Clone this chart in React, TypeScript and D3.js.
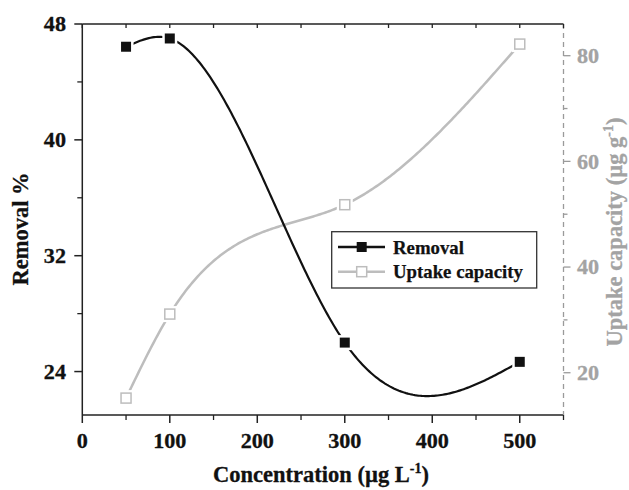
import React from "react";
import * as d3 from "d3";

const concentration = [50, 100, 300, 500];
const removal = [46.43, 47.0, 26.0, 24.67];
const uptake = [15.2, 31.1, 51.8, 82.2];

const xTicksMajor = [0, 100, 200, 300, 400, 500];
const xTicksMinor = [50, 150, 250, 350, 450, 550];
const yLeftMajor = [24, 32, 40, 48];
const yLeftMinor = [28, 36, 44];
const yRightMajor = [20, 40, 60, 80];
const yRightMinor = [30, 50, 70];

const W = 629;
const H = 490;
const FONT = "'Liberation Serif', 'Times New Roman', Times, serif";
const GRAY_LINE = "#bdbdbd";
const GRAY_AXIS = "#9a9a9a";
const GRAY_TEXT = "#a3a3a3";

// natural cubic spline in data-x space
function naturalSpline(xs: number[], ys: number[]) {
  const n = xs.length;
  const h: number[] = [];
  for (let i = 0; i < n - 1; i++) h.push(xs[i + 1] - xs[i]);
  const a: number[] = new Array(n).fill(0);
  const b: number[] = new Array(n).fill(0);
  const c: number[] = new Array(n).fill(0);
  const r: number[] = new Array(n).fill(0);
  b[0] = 1; b[n - 1] = 1;
  for (let i = 1; i < n - 1; i++) {
    a[i] = h[i - 1];
    b[i] = 2 * (h[i - 1] + h[i]);
    c[i] = h[i];
    r[i] = 6 * ((ys[i + 1] - ys[i]) / h[i] - (ys[i] - ys[i - 1]) / h[i - 1]);
  }
  const cp = new Array(n).fill(0);
  const rp = new Array(n).fill(0);
  cp[0] = c[0] / b[0];
  rp[0] = r[0] / b[0];
  for (let i = 1; i < n; i++) {
    const m = b[i] - a[i] * cp[i - 1];
    cp[i] = c[i] / m;
    rp[i] = (r[i] - a[i] * rp[i - 1]) / m;
  }
  const M = new Array(n).fill(0);
  M[n - 1] = rp[n - 1];
  for (let i = n - 2; i >= 0; i--) M[i] = rp[i] - cp[i] * M[i + 1];
  return (x: number) => {
    let i = 0;
    while (i < n - 2 && x > xs[i + 1]) i++;
    const hi = h[i];
    const A = xs[i + 1] - x;
    const B = x - xs[i];
    return (
      (M[i] * A * A * A) / (6 * hi) +
      (M[i + 1] * B * B * B) / (6 * hi) +
      (ys[i] / hi - (M[i] * hi) / 6) * A +
      (ys[i + 1] / hi - (M[i + 1] * hi) / 6) * B
    );
  };
}

export default function App() {
  const left = 82.3, right = 563.5, top = 24, bottom = 415;
  const x = d3.scaleLinear().domain([0, 550]).range([left, right]);
  const yL = d3.scaleLinear().domain([21, 48]).range([bottom, top]);
  const yR = d3.scaleLinear().domain([12, 86]).range([bottom, top]);

  const sampleXs = d3.range(concentration[0], concentration[concentration.length - 1] + 0.001, 2);
  const fRem = naturalSpline(concentration, removal);
  const fUp = naturalSpline(concentration, uptake);
  const line = d3.line<[number, number]>().x((d) => d[0]).y((d) => d[1]);
  const remPath = line(sampleXs.map((v) => [x(v), yL(fRem(v))]) as [number, number][]) || "";
  const upPath = line(sampleXs.map((v) => [x(v), yR(fUp(v))]) as [number, number][]) || "";

  const ms = 10;
  const tickFont = 20.5;
  const sx = 1.08;

  return (
    <svg
      width={W}
      height={H}
      style={{ position: "absolute", left: 0, top: 0, background: "#fff" }}
      fontFamily={FONT}
      fontWeight="bold"
    >
      <rect x={0} y={0} width={W} height={H} fill="#fff" />
      {/* curves */}
      <path d={upPath} fill="none" stroke={GRAY_LINE} strokeWidth={2.5} />
      <path d={remPath} fill="none" stroke="#111" strokeWidth={2.2} />

      {/* markers: uptake */}
      {concentration.map((c, i) => (
        <g key={"u" + i}>
          <rect x={x(c) - ms / 2 - 3} y={yR(uptake[i]) - ms / 2 - 3} width={ms + 6} height={ms + 6} fill="#fff" />
          <rect x={x(c) - ms / 2} y={yR(uptake[i]) - ms / 2} width={ms} height={ms} fill="#fff" stroke={GRAY_LINE} strokeWidth={1.5} />
        </g>
      ))}
      {/* markers: removal */}
      {concentration.map((c, i) => (
        <g key={"r" + i}>
          <rect x={x(c) - ms / 2 - 2.5} y={yL(removal[i]) - ms / 2 - 2.5} width={ms + 5} height={ms + 5} fill="#fff" />
          <rect x={x(c) - ms / 2} y={yL(removal[i]) - ms / 2} width={ms} height={ms} fill="#111" />
        </g>
      ))}

      {/* axes frame */}
      <line x1={left} x2={right} y1={top} y2={top} stroke="#222" strokeWidth={1.5} />
      <line x1={left} x2={right} y1={bottom} y2={bottom} stroke="#222" strokeWidth={1.5} />
      <line x1={left} x2={left} y1={top} y2={bottom} stroke="#222" strokeWidth={1.5} />
      <line x1={right} x2={right} y1={top} y2={bottom} stroke={GRAY_AXIS} strokeWidth={1.3} strokeDasharray="5,4" />

      {/* bottom ticks */}
      {xTicksMajor.map((t) => (
        <g key={"xb" + t}>
          <line x1={x(t)} x2={x(t)} y1={bottom} y2={bottom + 8} stroke="#222" strokeWidth={1.5} />
          <line x1={x(t)} x2={x(t)} y1={top} y2={top + 4} stroke="#222" strokeWidth={1.3} />
          <text transform={`translate(${x(t)},448) scale(${sx},1)`} textAnchor="middle" fontSize={tickFont} fill="#111" stroke="#111" strokeWidth={0.3}>
            {t}
          </text>
        </g>
      ))}
      {xTicksMinor.map((t) => (
        <g key={"xm" + t}>
          <line x1={x(t)} x2={x(t)} y1={bottom} y2={bottom + 5} stroke="#222" strokeWidth={1.3} />
          <line x1={x(t)} x2={x(t)} y1={top} y2={top + 4} stroke="#222" strokeWidth={1.3} />
        </g>
      ))}

      {/* left ticks */}
      {yLeftMajor.map((t) => (
        <g key={"yl" + t}>
          <line x1={left - 8} x2={left} y1={yL(t)} y2={yL(t)} stroke="#222" strokeWidth={1.5} />
          <text transform={`translate(66,${yL(t)}) scale(${sx},1)`} dy="0.35em" textAnchor="end" fontSize={tickFont} fill="#111" stroke="#111" strokeWidth={0.3}>
            {t}
          </text>
        </g>
      ))}
      {yLeftMinor.map((t) => (
        <line key={"ylm" + t} x1={left - 5} x2={left} y1={yL(t)} y2={yL(t)} stroke="#222" strokeWidth={1.3} />
      ))}

      {/* right ticks */}
      {yRightMajor.map((t) => (
        <g key={"yr" + t}>
          <line x1={right} x2={right + 7} y1={yR(t)} y2={yR(t)} stroke={GRAY_AXIS} strokeWidth={1.3} />
          <text transform={`translate(577,${yR(t)}) scale(${sx},1)`} dy="0.35em" textAnchor="start" fontSize={tickFont} fill={GRAY_TEXT} stroke={GRAY_TEXT} strokeWidth={0.3}>
            {t}
          </text>
        </g>
      ))}
      {yRightMinor.map((t) => (
        <line key={"yrm" + t} x1={right} x2={right + 4} y1={yR(t)} y2={yR(t)} stroke={GRAY_AXIS} strokeWidth={1.3} />
      ))}

      {/* axis titles */}
      <text transform="translate(28,229) rotate(-90)" textAnchor="middle" fontSize={22.5} fill="#111" stroke="#111" strokeWidth={0.3}>
        Removal %
      </text>
      <text x={321} y={482} textAnchor="middle" fontSize={22.5} fill="#111" stroke="#111" strokeWidth={0.3}>
        Concentration (µg L<tspan fontSize={14} dy={-9}>-1</tspan>
        <tspan dy={9}>)</tspan>
      </text>
      <text transform="translate(622,232) rotate(-90)" textAnchor="middle" fontSize={22.5} fill={GRAY_TEXT} stroke={GRAY_TEXT} strokeWidth={0.3}>
        Uptake capacity (µg g<tspan fontSize={14} dy={-9}>-1</tspan>
        <tspan dy={9}>)</tspan>
      </text>

      {/* legend */}
      <rect x={331.7} y={231.7} width={205} height={56.3} fill="#fff" stroke="#333" strokeWidth={1.3} />
      <line x1={338} x2={385} y1={247} y2={247} stroke="#111" strokeWidth={2.5} />
      <rect x={361.7 - ms / 2} y={247 - ms / 2} width={ms} height={ms} fill="#111" />
      <text x={393} y={247} dy="0.35em" fontSize={18.8} fill="#111" stroke="#111" strokeWidth={0.25}>
        Removal
      </text>
      <line x1={338} x2={385} y1={271.7} y2={271.7} stroke={GRAY_LINE} strokeWidth={2.5} />
      <rect x={361.7 - ms / 2} y={271.7 - ms / 2} width={ms} height={ms} fill="#fff" stroke={GRAY_LINE} strokeWidth={1.5} />
      <text x={393} y={271.7} dy="0.35em" fontSize={18.8} fill="#111" stroke="#111" strokeWidth={0.25}>
        Uptake capacity
      </text>
    </svg>
  );
}
